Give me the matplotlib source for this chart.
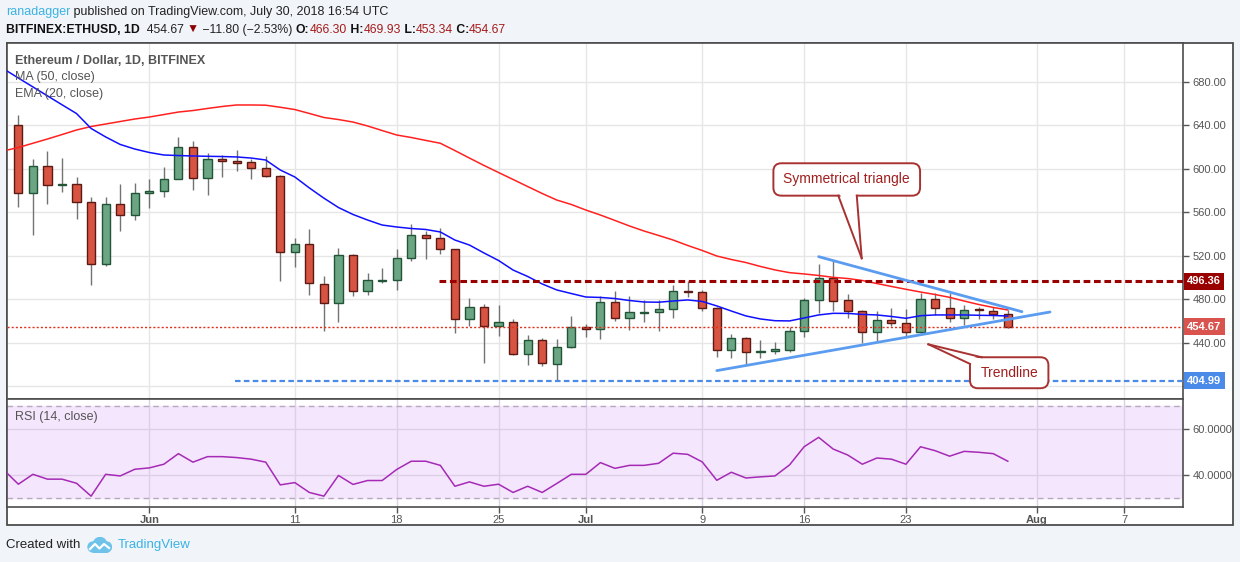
import numpy as np
import pandas as pd
import matplotlib
matplotlib.use('Agg')
import matplotlib.pyplot as plt
import matplotlib.transforms as mtransforms
from matplotlib.patches import Rectangle, Polygon, FancyBboxPatch, Circle

plt.rcParams['font.family'] = ['Liberation Sans', 'DejaVu Sans']

W, H = 1240, 562

# daily candles, BITFINEX ETHUSD, starting 2018-05-23
start = pd.Timestamp('2018-05-23')
opens = [640.0, 577.4, 602.2, 585.0, 585.6, 569.1, 512.1, 567.3, 557.1, 577.4,
         579.2, 590.2, 619.6, 591.1, 608.6, 606.8, 605.9, 600.4, 593.0, 523.7,
         530.5, 493.7, 476.2, 520.3, 487.3, 496.6, 497.4, 517.6, 538.8, 536.0,
         525.9, 461.5, 473.1, 455.3, 458.7, 429.3, 442.2, 420.1, 435.8, 454.2,
         452.4, 477.1, 462.4, 467.5, 467.9, 470.6, 487.2, 486.4, 471.6, 433.3,
         444.6, 431.2, 432.2, 433.3, 450.5, 479.5, 499.2, 479.0, 468.8, 449.6,
         460.6, 457.8, 449.6, 479.9, 471.6, 462.4, 470.6, 469.1, 466.30]
highs = [649.4, 608.6, 616.3, 609.8, 592.4, 574.0, 574.0, 586.0, 586.8, 590.5,
         601.6, 629.1, 625.5, 614.4, 612.6, 617.2, 608.6, 611.4, 594.0, 536.0,
         544.6, 501.0, 526.8, 521.5, 503.8, 508.4, 525.9, 548.9, 542.7, 545.2,
         526.5, 480.8, 475.3, 474.4, 461.8, 447.0, 444.6, 443.4, 464.5, 457.2,
         482.9, 487.5, 482.9, 479.0, 479.3, 493.0, 496.5, 488.5, 473.0, 447.7,
         445.5, 442.5, 440.4, 454.7, 481.0, 512.3, 516.0, 484.7, 470.0, 469.1,
         471.6, 470.6, 485.4, 485.4, 486.0, 474.7, 473.1, 472.5, 469.93]
lows = [565.0, 539.3, 567.8, 578.9, 554.0, 493.3, 510.8, 543.0, 553.1, 564.1,
        574.3, 590.2, 580.7, 576.1, 592.6, 598.2, 590.8, 592.0, 497.0, 509.9,
        484.1, 451.0, 459.3, 483.3, 484.1, 494.6, 488.0, 515.4, 517.3, 521.9,
        449.2, 455.3, 421.6, 446.5, 429.0, 419.8, 419.0, 405.0, 435.0, 445.5,
        443.7, 460.2, 452.0, 459.3, 450.5, 463.0, 482.3, 469.4, 427.1, 425.6,
        419.5, 425.6, 429.3, 431.8, 445.5, 467.0, 469.1, 462.4, 440.0, 441.9,
        455.3, 446.5, 449.0, 465.5, 459.3, 456.3, 461.8, 461.8, 453.34]
closes = [577.4, 602.2, 584.7, 586.0, 569.1, 512.1, 567.3, 557.1, 577.4, 579.5,
          590.2, 619.6, 591.1, 608.6, 606.8, 605.6, 600.4, 593.0, 523.7, 530.5,
          494.6, 476.2, 520.3, 487.3, 497.4, 497.4, 517.6, 538.8, 536.0, 525.9,
          461.5, 473.1, 455.3, 458.7, 429.3, 442.2, 421.0, 435.8, 454.2, 452.4,
          477.1, 462.4, 467.9, 468.0, 470.6, 487.2, 486.3, 471.6, 433.3, 444.6,
          431.2, 432.4, 434.0, 450.5, 479.5, 499.2, 478.6, 468.8, 449.6, 460.6,
          457.8, 449.6, 479.9, 471.6, 462.4, 470.3, 469.6, 466.3, 454.67]

# indicator values, starting one day earlier (2018-05-22)
ema20 = [691.7, 683.4, 675.2, 667.0, 658.8, 650.7, 637.0, 629.2, 622.3, 618.1,
         614.9, 612.6, 612.1, 611.7, 611.4, 611.2, 610.8, 609.8, 608.0, 598.8,
         592.4, 582.3, 572.9, 564.3, 557.9, 552.8, 548.2, 546.4, 545.0, 544.1,
         541.8, 534.4, 529.8, 522.5, 515.6, 506.8, 500.9, 494.0, 488.5, 485.2,
         482.0, 481.6, 480.6, 478.8, 477.4, 477.2, 478.3, 479.3, 477.9, 473.8,
         469.1, 464.6, 461.8, 460.2, 460.0, 462.7, 465.5, 467.0, 466.9, 466.0,
         465.5, 464.1, 462.4, 464.8, 465.5, 465.5, 465.5, 465.2, 465.0, 464.5]
ma50 = [616.4, 619.5, 623.4, 627.3, 631.4, 635.6, 638.8, 641.1, 643.4, 645.7,
        647.5, 649.8, 652.1, 653.5, 655.4, 657.2, 658.6, 658.6, 658.4, 656.5,
        654.4, 650.8, 647.1, 645.2, 642.9, 639.3, 635.1, 631.0, 628.7, 626.0,
        623.4, 616.7, 609.8, 603.0, 596.5, 590.1, 583.6, 577.2, 571.2, 567.1,
        562.0, 557.4, 552.4, 547.3, 542.7, 538.6, 534.4, 529.4, 524.8, 519.7,
        516.5, 513.7, 510.1, 506.9, 504.4, 503.2, 501.8, 500.1, 499.0, 497.2,
        494.4, 491.7, 489.1, 486.6, 484.3, 481.7, 478.3, 475.1, 472.4, 470.1]
rsi14 = [42.3, 36.1, 40.4, 38.3, 38.3, 36.5, 30.9, 40.4, 39.7, 42.6,
         43.2, 44.8, 49.4, 45.7, 48.1, 48.1, 47.7, 47.0, 45.7, 35.8,
         36.8, 32.5, 30.9, 39.9, 36.0, 37.7, 37.7, 42.5, 46.1, 46.1,
         44.3, 35.2, 37.1, 35.2, 36.1, 32.5, 35.2, 32.5, 36.4, 40.4,
         40.4, 45.5, 43.0, 44.3, 44.3, 45.2, 49.6, 49.1, 45.8, 37.8,
         41.3, 38.8, 39.3, 39.7, 44.5, 52.4, 56.5, 51.4, 48.8, 44.8,
         47.5, 47.0, 44.8, 52.4, 50.7, 48.3, 50.4, 50.0, 49.4, 46.1]

tick_dates = ['2018-06-01', '2018-06-11', '2018-06-18', '2018-06-25', '2018-07-01',
              '2018-07-09', '2018-07-16', '2018-07-23', '2018-08-01', '2018-08-07']
tick_labels = ['Jun', '11', '18', '25', 'Jul', '9', '16', '23', 'Aug', '7']
month_labels = ['Jun', 'Jul', 'Aug']
price_ticks = [400, 440, 480, 520, 560, 600, 640, 680]
rsi_ticks = [40, 60]

resistance = 496.36
last_close = 454.67
support = 404.99
resistance_from = 28.9   # day offsets from start
support_from = 14.9
tri_upper = [(55.0, 519.1), (68.97, 468.5)]
tri_lower = [(48.0, 414.3), (70.9, 468.2)]

# ---------------------------------------------------------------
def fx(px):
    return px / W

def fy(py):
    return 1 - py / H

grey = '#4d4d4d'
fig = plt.figure(figsize=(W / 100, H / 100), dpi=100, facecolor='#f1f4f8')
fig.patches.append(Rectangle((fx(7), fy(525)), fx(1233) - fx(7), fy(43) - fy(525),
                             transform=fig.transFigure, fc='white', ec=grey,
                             lw=1.3, zorder=-1))

ax = fig.add_axes([fx(7), fy(399), fx(1183) - fx(7), fy(43) - fy(399)])
ax2 = fig.add_axes([fx(7), fy(506.7), fx(1183) - fx(7), fy(399) - fy(506.7)], sharex=ax)

x = np.arange(len(closes))
xi = np.arange(-1, len(closes))
o, hi, lo, c = map(np.array, (opens, highs, lows, closes))
up = c >= o
body_lo = np.minimum(o, c)
body_h = np.maximum(np.abs(c - o), 0.8)

ax.vlines(x, lo, hi, color='#737373', lw=1, zorder=3)
ax.bar(x[up], body_h[up], 0.56, bottom=body_lo[up], color='#6ba583',
       edgecolor='#225437', lw=1, zorder=4)
ax.bar(x[~up], body_h[~up], 0.56, bottom=body_lo[~up], color='#d75442',
       edgecolor='#5b1a13', lw=1, zorder=4)

ax.plot(xi, ma50, color='#ff2020', lw=1.1, zorder=5)
ax.plot(xi, ema20, color='#1010ff', lw=1.1, zorder=5)

xlim = (-0.78, 80.04)
ax.set_xlim(*xlim)
ax.set_ylim(388.2, 715.6)

tick_pos = [(pd.Timestamp(d) - start).days for d in tick_dates]

# horizontal levels
ax.plot([resistance_from, xlim[1]], [resistance, resistance], color='#990000',
        lw=2.2, ls=(0, (2.2, 1.2)), zorder=6)
ax.axhline(last_close, color='#e0301e', lw=1, ls=(0, (1.5, 1.5)), zorder=6)
ax.plot([support_from, xlim[1]], [support, support], color='#4a8ae8',
        lw=1.6, ls=(0, (2.5, 1.5)), zorder=6)

# triangle
for seg in (tri_upper, tri_lower):
    ax.plot([p[0] for p in seg], [p[1] for p in seg], color='#5b9cf0', lw=2,
            solid_capstyle='round', zorder=7)

# callouts
asp = 14.55 / 1.0875
cal_edge = '#a83232'
cal_text = '#a11e1e'


def callout(x0, x1, y0, y1, text, base, tip, cover):
    box = FancyBboxPatch((x0, y0), x1 - x0, y1 - y0,
                         boxstyle='round,pad=0,rounding_size=0.55',
                         mutation_aspect=asp, fc='white', ec=cal_edge, lw=1.4, zorder=8)
    ax.add_patch(box)
    ax.add_patch(Polygon(cover + [tip], closed=True, fc='white', ec='none', zorder=9))
    for b in base:
        ax.plot([b[0], tip[0]], [b[1], tip[1]], color=cal_edge, lw=1.4, zorder=9)
    ax.text((x0 + x1) / 2, (y0 + y1) / 2, text, ha='center', va='center',
            color=cal_text, fontsize=10, zorder=10)


callout(51.89, 61.97, 575.2, 605.0, 'Symmetrical triangle',
        base=[(56.35, 575.2), (57.62, 575.2)], tip=(57.96, 517.6),
        cover=[(56.45, 577.0), (57.55, 577.0)])
callout(65.4, 70.79, 398.1, 426.6, 'Trendline',
        base=[(66.2, 426.6), (65.4, 420.5)], tip=(62.54, 438.5),
        cover=[(66.2, 425.0), (65.7, 424.5), (65.5, 420.6)])

# axis styling
for a in (ax, ax2):
    a.set_facecolor('white')
    for s in a.spines.values():
        s.set_color(grey)
        s.set_linewidth(1.2)
    a.set_xticks(tick_pos)
    a.grid(True, color='#e6e6e6', lw=1)
    a.set_axisbelow(True)
    a.yaxis.tick_right()
    a.tick_params(axis='y', direction='out', length=4, width=1, colors='#555555',
                  labelsize=8, pad=3)

ax.tick_params(axis='x', bottom=False, labelbottom=False)
ax.set_yticks(price_ticks)
# the 400 label sits under the 404.99 price tag
ax.set_yticklabels(['' if v == 400 else '%.2f' % v for v in price_ticks])

boxes = [(resistance, '#990000'), (last_close, '#d9534f'), (support, '#4a8ae8')]
btrans = mtransforms.blended_transform_factory(ax.transAxes, ax.transData)
for val, col in boxes:
    ax.text(1.0035, val, '%.2f' % val, transform=btrans, ha='left', va='center',
            color='white', fontsize=8, fontweight='bold', clip_on=False, zorder=12,
            bbox=dict(boxstyle='square,pad=0.3', fc=col, ec='none'))

# RSI pane
ax2.set_ylim(26.3, 73.2)
ax2.axhspan(30, 70, color='#f4e6fd', zorder=0)
for lvl in (30, 70):
    ax2.axhline(lvl, color='#b7a9bd', lw=1, ls=(0, (4, 3)), zorder=1)
ax2.grid(True, color='#ddd0e6', lw=1)
ax2.plot(xi, rsi14, color='#a52ab5', lw=1.1, zorder=5)
ax2.set_yticks(rsi_ticks)
ax2.set_yticklabels(['%.4f' % v for v in rsi_ticks])
ax2.set_xticklabels(tick_labels)
ax2.tick_params(axis='x', direction='out', length=4, width=1, colors='#555555',
                labelsize=8, pad=2)
for lab in ax2.get_xticklabels():
    if lab.get_text() in month_labels:
        lab.set_fontweight('bold')

# pane legends
ax.text(8 / 1176, 1 - (60.7 - 43) / 356, 'Ethereum / Dollar, 1D, BITFINEX',
        transform=ax.transAxes, ha='left', va='center', fontsize=9,
        color='#555555', fontweight='semibold', zorder=11)
ax.text(8 / 1176, 1 - (77.3 - 43) / 356, 'MA (50, close)', transform=ax.transAxes,
        ha='left', va='center', fontsize=9, color='#555555', zorder=11)
ax.text(8 / 1176, 1 - (94.3 - 43) / 356, 'EMA (20, close)', transform=ax.transAxes,
        ha='left', va='center', fontsize=9, color='#555555', zorder=11)
ax2.text(8 / 1176, 1 - (417.3 - 399) / 107.7, 'RSI (14, close)', transform=ax2.transAxes,
         ha='left', va='center', fontsize=9, color='#555555', zorder=11)

# header
renderer = fig.canvas.get_renderer()


def chain(parts, x0, y, size):
    xp = x0
    for txt, col, wt in parts:
        t = fig.text(fx(xp), fy(y), txt, color=col, fontsize=size, fontweight=wt,
                     ha='left', va='center')
        xp += t.get_window_extent(renderer).width


chain([('ranadagger', '#3bb3e4', 'normal'),
       (' published on TradingView.com, July 30, 2018 16:54 UTC', '#222222', 'normal')],
      6, 12.3, 9)
red = '#a61c1c'
chain([('BITFINEX:ETHUSD, 1D', '#111111', 'bold'),
       ('  454.67 ', '#222222', 'normal'),
       ('\u25bc', '#8b0000', 'normal'),
       (' \u221211.80 (\u22122.53%) ', '#222222', 'normal'),
       ('O:', '#111111', 'bold'), ('466.30', red, 'normal'),
       (' H:', '#111111', 'bold'), ('469.93', red, 'normal'),
       (' L:', '#111111', 'bold'), ('453.34', red, 'normal'),
       (' C:', '#111111', 'bold'), ('454.67', red, 'normal')],
      6, 30, 8.8)

# footer
fig.text(fx(6), fy(545), 'Created with', color='#222222', fontsize=9.5,
         ha='left', va='center')
fig.text(fx(118), fy(545), 'TradingView', color='#3bb3e4', fontsize=9.5,
         ha='left', va='center')
lax = fig.add_axes([fx(87), fy(553), fx(112) - fx(87), fy(537) - fy(553)])
lax.set_xlim(0, 25)
lax.set_ylim(0, 16)
lax.set_aspect('equal')
lax.axis('off')
for cx, cy, r in [(6, 6, 5), (13, 9, 6.5), (19.5, 6, 5)]:
    lax.add_patch(Circle((cx, cy), r, color='#6fc3ea'))
lax.add_patch(Rectangle((6, 1), 13.5, 6, color='#6fc3ea'))
lax.plot([3, 8, 12.5, 17, 22], [4, 9, 4.5, 9, 5], color='white', lw=1.6)

fig.savefig('out.png', dpi=100, facecolor=fig.get_facecolor())
